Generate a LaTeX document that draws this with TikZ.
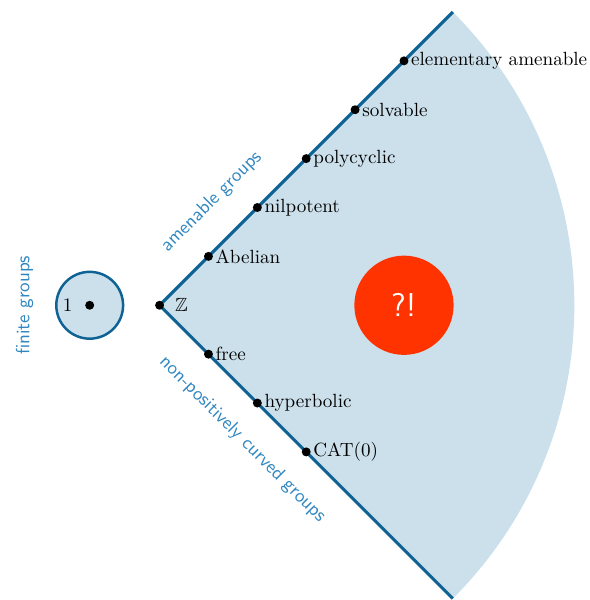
\documentclass[tikz,border=0pt]{standalone}
\usepackage{amsmath,amssymb}
\usetikzlibrary{positioning}
\definecolor{conefill}{HTML}{CCE0EC}
\definecolor{coneline}{HTML}{0E6394}
\definecolor{tagblue}{HTML}{2F86C0}
\definecolor{alert}{HTML}{FF3300}

\begin{document}
\begin{tikzpicture}[scale=0.9,
    pt/.style={circle, fill=black, inner sep=0pt, minimum size=4.7pt},
    cls/.style={label={[inner sep=1pt]right:#1}},
    tag/.style={text=tagblue, font=\sffamily},
    ray/.style={coneline, line width=1.6pt}]
  \useasboundingbox (-3.265,-6.03) rectangle (8.796,6.245);
  \coordinate (apex) at (0,0);
  \coordinate (top) at (6,6);
  \coordinate (bot) at (6,-6);
  % the cone
  \fill[conefill] (apex) -- (top) arc[start angle=45, end angle=-45, radius=8.485] -- cycle;
  \draw[ray] (apex) -- (top);
  \draw[ray] (apex) -- (bot);
  % finite groups
  \node[circle, draw=coneline, fill=conefill, line width=1.3pt, minimum size=35pt] (finite) at (-1.43,0) {};
  \node[pt, label={[label distance=3pt]left:1}] (one) at (finite) {};
  \node[tag, rotate=90] (finlbl) at (-2.76,0) {finite groups};
  \node[pt, label={[label distance=2pt]right:$\mathbb{Z}$}] (z) at (apex) {};
  % classes along the two rays
  \foreach \name [count=\i] in {Abelian, nilpotent, polycyclic, solvable, elementary amenable}
    \node[pt, cls=\name] (up\i) at (\i,\i) {};
  \foreach \name [count=\i] in {free, hyperbolic, CAT(0)}
    \node[pt, cls=\name] (dn\i) at (\i,-\i) {};
  \path (apex) -- (top) node[tag, sloped, pos=0.265, above=11pt] (amenlbl) {amenable groups};
  \path (apex) -- (bot) node[tag, sloped, pos=0.37, below=11pt] (npclbl) {non-positively curved groups};
  \node[circle, fill=alert, minimum size=52pt, text=white, font=\sffamily\LARGE] (puzzle) at (5,0) {?!};
\end{tikzpicture}
\end{document}
